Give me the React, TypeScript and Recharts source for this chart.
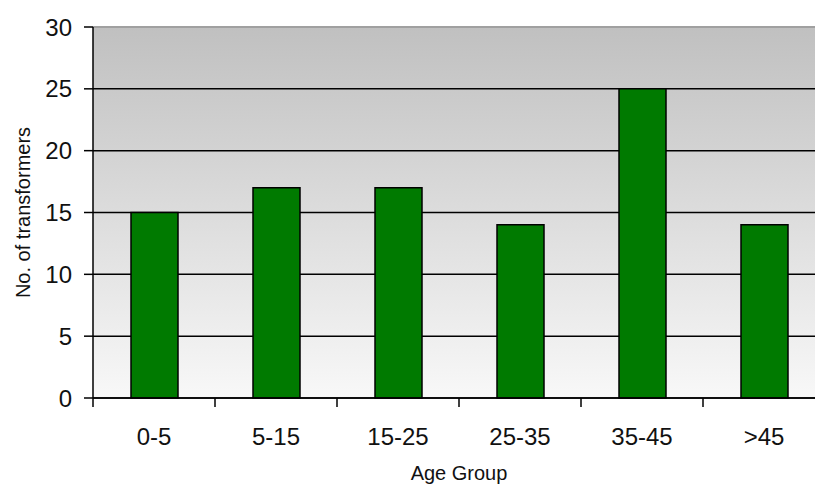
import React from 'react';
import { BarChart, Bar, XAxis, YAxis, CartesianGrid, ReferenceLine } from 'recharts';

const categories = ['0-5', '5-15', '15-25', '25-35', '35-45', '>45'];
const counts = [15, 17, 17, 14, 25, 14];
const yTicks = [0, 5, 10, 15, 20, 25, 30];

const data = categories.map((c, i) => ({ group: c, count: counts[i] }));

const FONT = '"Liberation Sans", Arial, sans-serif';

const XTick = (props: any) => {
  const { x, y, payload, index, visibleTicksCount } = props;
  const half = payload && typeof payload.offset === 'number' && payload.offset > 0 ? payload.offset : 61;
  return (
    <g>
      <line x1={x - half} x2={x - half} y1={y} y2={y + 9} stroke="#000" strokeWidth={1.5} />
      {index === visibleTicksCount - 1 && (
        <line x1={x + half} x2={x + half} y1={y} y2={y + 9} stroke="#000" strokeWidth={1.5} />
      )}
      <text x={x} y={y + 30} dy="0.71em" textAnchor="middle" fill="#111" fontSize={24} fontFamily={FONT}>
        {payload.value}
      </text>
    </g>
  );
};

export default function App() {
  return (
    <div style={{ position: 'fixed', left: 0, top: 0, width: 815, height: 486, overflow: 'hidden', background: '#fff' }}>
      <BarChart
        width={840}
        height={486}
        data={data}
        margin={{ top: 27, right: 15, bottom: 0, left: 0 }}
      >
        <defs>
          <linearGradient id="bgGrad" x1="0" y1="0" x2="0" y2="1">
            <stop offset="0%" stopColor="#c0c0c0" />
            <stop offset="100%" stopColor="#f8f8f8" />
          </linearGradient>
        </defs>
        <CartesianGrid
          vertical={false}
          stroke="#000"
          strokeWidth={1.5}
          fill="url(#bgGrad)"
          fillOpacity={1}
        />
        <ReferenceLine y={30} stroke="#a0a0a0" strokeWidth={2} />
        <XAxis
          dataKey="group"
          height={88}
          axisLine={{ stroke: '#000', strokeWidth: 1.5 }}
          tickLine={false}
          tickSize={0}
          tickMargin={0}
          tick={<XTick />}
          interval={0}
          label={{ value: 'Age Group', position: 'insideBottom', offset: 6, fontSize: 20, fill: '#111', fontFamily: FONT }}
        />
        <YAxis
          width={93}
          domain={[0, 30]}
          ticks={yTicks}
          interval={0}
          axisLine={{ stroke: '#000', strokeWidth: 1.5 }}
          tickLine={{ stroke: '#000', strokeWidth: 1.5 }}
          tickSize={9}
          tickMargin={12}
          tick={{ fontSize: 24, fill: '#111', fontFamily: FONT }}
          label={{ value: 'No. of transformers', angle: -90, position: 'center', dx: -24, fontSize: 20, fill: '#111', fontFamily: FONT }}
        />
        <Bar dataKey="count" fill="#007a00" stroke="#000" strokeWidth={1.5} barSize={47} isAnimationActive={false} />
      </BarChart>
    </div>
  );
}
